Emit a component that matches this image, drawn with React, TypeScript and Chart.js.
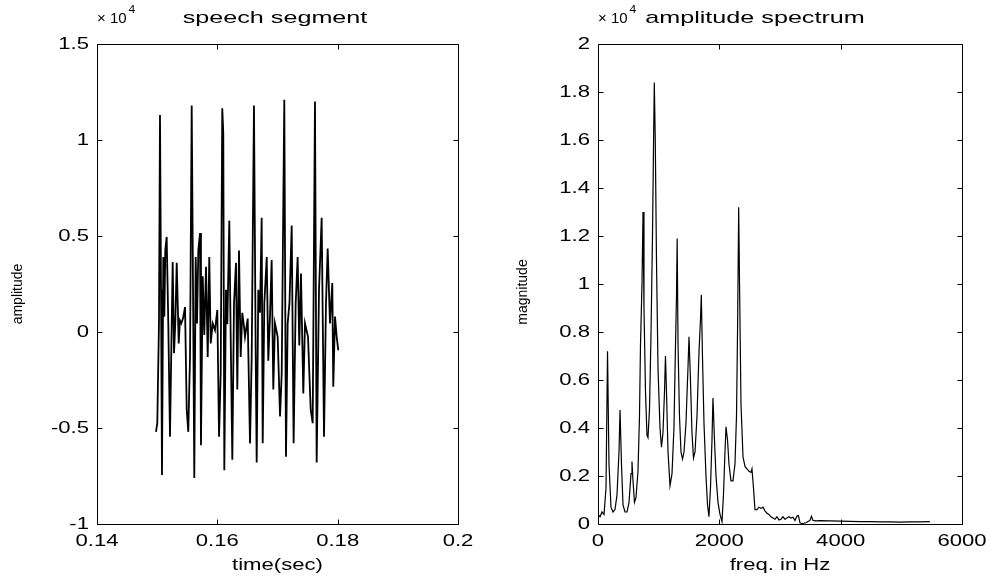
import React, { useEffect, useRef } from "react";
import { Chart, registerables } from "chart.js";

Chart.register(...registerables);

// ---------- data: speech segment ----------
const speechTime = [
  0.1498, 0.15002, 0.1503, 0.15047, 0.15064, 0.1508, 0.15102, 0.15119, 0.15135, 0.15158,
  0.15185, 0.15213, 0.15242, 0.15258, 0.1528, 0.15301, 0.15325, 0.15358, 0.15379, 0.15401,
  0.15429, 0.15463, 0.15491, 0.15517, 0.15546, 0.15574, 0.156, 0.15617, 0.1564, 0.15662,
  0.15684, 0.15712, 0.15728, 0.15757, 0.15783, 0.15812, 0.1584, 0.15866, 0.1589, 0.15923,
  0.15961, 0.16, 0.16028, 0.16056, 0.16082, 0.16099, 0.16116, 0.16144, 0.16166, 0.16199,
  0.16222, 0.16249, 0.16277, 0.1631, 0.16332, 0.1636, 0.16388, 0.16415, 0.16443, 0.1646,
  0.16505, 0.16543, 0.16571, 0.16609, 0.16638, 0.16654, 0.16681, 0.16709, 0.16737, 0.16754,
  0.16781, 0.16821, 0.16847, 0.16875, 0.16903, 0.1693, 0.16958, 0.17003, 0.17042, 0.1707,
  0.17113, 0.17141, 0.17169, 0.17199, 0.17236, 0.17268, 0.17302, 0.17335, 0.17362, 0.1739,
  0.17429, 0.17457, 0.17507, 0.17552, 0.17585, 0.17623, 0.17651, 0.1769, 0.17734, 0.17773,
  0.17806, 0.17834, 0.17872, 0.17911, 0.17927, 0.17956, 0.17984, 0.1801,
];
const speechAmp = [
  -5200, -4750, 470, 11300, 2200, -7450, 3900, 800, 4250, 4950,
  450, -5450, 450, 3650, -1100, 450, 3600, -600, 600, 450,
  700, 1300, -4050, -5200, -1300, 11800, 450, -7600, 3900, 450,
  4250, 5150, -5900, 2900, -150, 3400, -1300, 3900, -600, 450,
  100, 1150, -5450, -2150, 11650, 10350, -7200, 2200, 400, 5800,
  -250, -6650, 1500, 3600, -3000, 4250, -1300, 1000, 300, -250,
  700, -5800, -1300, 11800, -1300, -6800, 2200, 1000, 5950, -5800,
  1500, 3900, -1500, 800, 3750, -3000, 450, -250, -4400, -2150,
  12100, -6500, 450, 1500, 5550, -5800, 1500, 3900, -700, 3050,
  -3200, 450, -250, -4050, -4750, 12000, -6800, 2200, 5950, -5450,
  1500, 4350, 450, 2550, -2850, 800, -250, -950,
];

// ---------- data: amplitude spectrum ----------
const specFreq = [
  0, 33, 66, 99, 132, 157, 181, 214, 247, 280,
  313, 346, 363, 387, 412, 445, 478, 511, 544, 560,
  577, 601, 626, 659, 684, 700, 725, 742, 758, 783,
  807, 824, 849, 873, 898, 915, 928, 944, 964, 989,
  1022, 1046, 1071, 1096, 1112, 1129, 1154, 1187, 1220, 1252,
  1277, 1294, 1305, 1319, 1343, 1368, 1393, 1418, 1450, 1483,
  1500, 1524, 1549, 1574, 1599, 1632, 1665, 1689, 1703, 1722,
  1747, 1780, 1805, 1829, 1854, 1879, 1895, 1920, 1945, 1978,
  2011, 2044, 2068, 2093, 2110, 2135, 2159, 2192, 2225, 2258,
  2283, 2300, 2319, 2333, 2357, 2390, 2423, 2456, 2489, 2521,
  2538, 2563, 2587, 2620, 2653, 2686, 2719, 2752, 2785, 2818,
  2851, 2884, 2917, 2950, 2983, 3016, 3049, 3082, 3115, 3148,
  3181, 3214, 3247, 3280, 3304, 3329, 3362, 3395, 3428, 3461,
  3494, 3518, 3543, 3593, 3659, 3823, 3988, 4153, 4318, 4483,
  4647, 4812, 4977, 5142, 5307, 5471,
];
const specMag = [
  400, 300, 500, 400, 1500, 7200, 2500, 700, 500, 600,
  1200, 3000, 4750, 2500, 800, 500, 500, 900, 2100, 2600,
  1800, 900, 1100, 2200, 4500, 7400, 10000, 13000, 9000, 5500,
  3700, 3600, 4800, 7800, 12000, 15700, 18400, 16000, 11000, 6500,
  4000, 3200, 3800, 5500, 7000, 5500, 3000, 1600, 2100, 4000,
  7400, 9500, 11900, 7500, 4500, 3000, 2700, 3000, 4200, 6500,
  7800, 6000, 3800, 2750, 3000, 4500, 7200, 8500, 9550, 7000,
  4200, 2000, 800, 300, 1500, 3500, 5250, 3500, 2000, 900,
  400, 100, 1200, 3000, 4050, 3500, 2500, 1800, 1800, 2500,
  4500, 8000, 13200, 10000, 5000, 2800, 2400, 2300, 2200, 2150,
  2300, 1500, 600, 600, 700, 650, 700, 550, 450, 400,
  300, 250, 200, 300, 170, 200, 300, 200, 250, 300,
  250, 280, 150, 330, 350, 50, 20, 30, 50, 100,
  150, 320, 150, 130, 140, 130, 120, 110, 100, 100,
  90, 90, 80, 90, 90, 100,
];

// ---------- tick values / labels ----------
const speechXTicks = [0.14, 0.16, 0.18, 0.2];
const speechXTickLabels = ["0.14", "0.16", "0.18", "0.2"];
const speechYTicks = [-10000, -5000, 0, 5000, 10000, 15000];
const speechYTickLabels = ["-1", "-0.5", "0", "0.5", "1", "1.5"];

const specXTicks = [0, 2000, 4000, 6000];
const specXTickLabels = ["0", "2000", "4000", "6000"];
const specYTicks = [0, 2000, 4000, 6000, 8000, 10000, 12000, 14000, 16000, 18000, 20000];
const specYTickLabels = ["0", "0.2", "0.4", "0.6", "0.8", "1", "1.2", "1.4", "1.6", "1.8", "2"];

const FONT = '"Liberation Sans", Arial, Helvetica, sans-serif';

function stretchText(
  ctx: CanvasRenderingContext2D,
  text: string,
  x: number,
  y: number,
  align: CanvasTextAlign,
  sx: number,
  size: number
) {
  ctx.save();
  ctx.translate(x, y);
  ctx.scale(sx, 1);
  ctx.font = `${size}px ${FONT}`;
  ctx.textAlign = align;
  ctx.textBaseline = "middle";
  ctx.fillStyle = "#000";
  ctx.fillText(text, 0, 0);
  ctx.restore();
}

type PanelCfg = {
  width: number;
  height: number;
  padding: { left: number; right: number; top: number; bottom: number };
  xs: number[];
  ys: number[];
  xMin: number;
  xMax: number;
  yMin: number;
  yMax: number;
  xTicks: number[];
  xTickLabels: string[];
  yTicks: number[];
  yTickLabels: string[];
  xTitle: string;
  yTitle: string;
  yTitleX: number;
  yTitleY: number;
  title: string;
  titleX: number;
  lineWidth: number;
};

function makeFramePlugin(cfg: PanelCfg) {
  return {
    id: "matlabFrame",
    afterDraw(chart: any) {
      const ctx: CanvasRenderingContext2D = chart.ctx;
      const a = chart.chartArea;
      const xs = chart.scales.x;
      const ys = chart.scales.y;
      const L = Math.round(a.left) + 0.5;
      const R = Math.round(a.right) + 0.5;
      const T = Math.round(a.top) + 0.5;
      const B = Math.round(a.bottom) + 0.5;
      ctx.save();
      ctx.strokeStyle = "#000";
      ctx.lineWidth = 1;
      ctx.beginPath();
      ctx.rect(L, T, R - L, B - T);
      const tl = 5;
      cfg.xTicks.forEach((v) => {
        const px = Math.round(xs.getPixelForValue(v)) + 0.5;
        ctx.moveTo(px, B);
        ctx.lineTo(px, B - tl);
        ctx.moveTo(px, T);
        ctx.lineTo(px, T + tl);
      });
      cfg.yTicks.forEach((v) => {
        const py = Math.round(ys.getPixelForValue(v)) + 0.5;
        ctx.moveTo(L, py);
        ctx.lineTo(L + tl, py);
        ctx.moveTo(R, py);
        ctx.lineTo(R - tl, py);
      });
      ctx.stroke();
      ctx.restore();

      // tick labels
      cfg.xTicks.forEach((v, i) => {
        const px = xs.getPixelForValue(v);
        stretchText(ctx, cfg.xTickLabels[i], px, a.bottom + 17, "center", 1.3, 17);
      });
      cfg.yTicks.forEach((v, i) => {
        const py = ys.getPixelForValue(v);
        stretchText(ctx, cfg.yTickLabels[i], a.left - 8, py, "right", 1.3, 17);
      });

      // axis titles
      stretchText(ctx, cfg.xTitle, (a.left + a.right) / 2, 565, "center", 1.3, 17);
      ctx.save();
      ctx.translate(cfg.yTitleX, cfg.yTitleY);
      ctx.rotate(-Math.PI / 2);
      ctx.font = `14px ${FONT}`;
      ctx.textAlign = "center";
      ctx.textBaseline = "middle";
      ctx.fillStyle = "#000";
      ctx.fillText(cfg.yTitle, 0, 0);
      ctx.restore();

      // exponent label  "× 10^4"
      ctx.save();
      ctx.font = `15px ${FONT}`;
      const w = ctx.measureText("× 10").width;
      ctx.restore();
      stretchText(ctx, "× 10", a.left, 19, "left", 1.0, 15);
      stretchText(ctx, "4", a.left + w + 2, 10, "left", 1.1, 11);

      // title
      stretchText(ctx, cfg.title, cfg.titleX, 18, "center", 1.48, 17);
    },
  };
}

function Panel({ cfg }: { cfg: PanelCfg }) {
  const ref = useRef<HTMLCanvasElement | null>(null);
  useEffect(() => {
    if (!ref.current) return;
    const data = cfg.xs.map((x, i) => ({ x, y: cfg.ys[i] }));
    const chart = new Chart(ref.current, {
      type: "line",
      data: {
        datasets: [
          {
            data,
            borderColor: "#000",
            borderWidth: cfg.lineWidth,
            pointRadius: 0,
            tension: 0,
            fill: false,
          },
        ],
      },
      options: {
        animation: false,
        responsive: false,
        devicePixelRatio: 1,
        layout: { padding: cfg.padding },
        plugins: { legend: { display: false }, tooltip: { enabled: false }, title: { display: false } },
        scales: {
          x: { type: "linear", display: false, min: cfg.xMin, max: cfg.xMax },
          y: { type: "linear", display: false, min: cfg.yMin, max: cfg.yMax },
        },
      },
      plugins: [makeFramePlugin(cfg)],
    } as any);
    return () => chart.destroy();
  }, [cfg]);
  return <canvas ref={ref} width={cfg.width} height={cfg.height} style={{ display: "block" }} />;
}

const leftCfg: PanelCfg = {
  width: 495,
  height: 578,
  padding: { left: 97, right: 37, top: 44, bottom: 54 },
  xs: speechTime,
  ys: speechAmp,
  xMin: 0.14,
  xMax: 0.2,
  yMin: -10000,
  yMax: 15000,
  xTicks: speechXTicks,
  xTickLabels: speechXTickLabels,
  yTicks: speechYTicks,
  yTickLabels: speechYTickLabels,
  xTitle: "time(sec)",
  yTitle: "amplitude",
  yTitleX: 18,
  yTitleY: 294,
  title: "speech segment",
  titleX: 275,
  lineWidth: 1.8,
};

const rightCfg: PanelCfg = {
  width: 496,
  height: 578,
  padding: { left: 103, right: 29, top: 44, bottom: 54 },
  xs: specFreq,
  ys: specMag,
  xMin: 0,
  xMax: 6000,
  yMin: 0,
  yMax: 20000,
  xTicks: specXTicks,
  xTickLabels: specXTickLabels,
  yTicks: specYTicks,
  yTickLabels: specYTickLabels,
  xTitle: "freq. in Hz",
  yTitle: "magnitude",
  yTitleX: 28,
  yTitleY: 292,
  title: "amplitude spectrum",
  titleX: 260,
  lineWidth: 1.2,
};

export default function App() {
  return (
    <div
      style={{
        position: "absolute",
        left: 0,
        top: 0,
        width: 991,
        height: 578,
        background: "#fff",
        display: "flex",
      }}
    >
      <Panel cfg={leftCfg} />
      <Panel cfg={rightCfg} />
    </div>
  );
}
